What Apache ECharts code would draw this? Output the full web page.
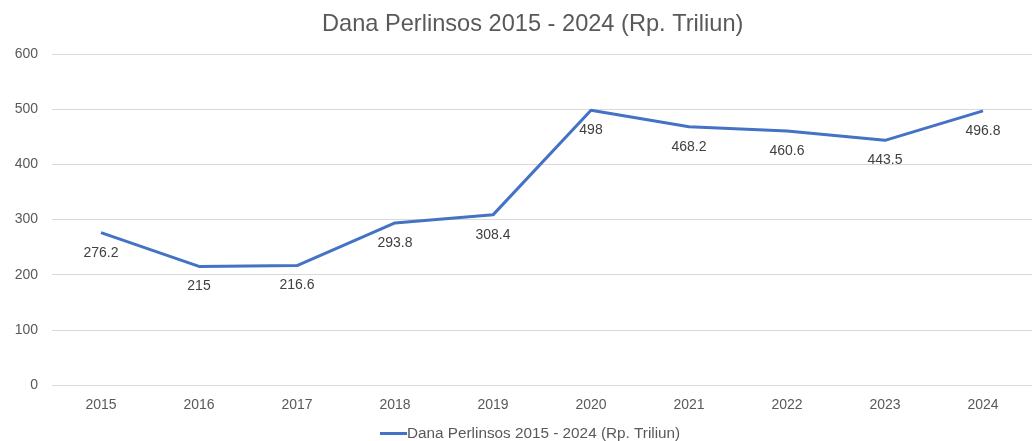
<!DOCTYPE html>
<html>
<head>
    <meta charset="utf-8">
    <title>Dana Perlinsos</title>
    <script src="https://cdn.jsdelivr.net/npm/echarts@6/dist/echarts.min.js"></script>
    <style>
        html, body { margin: 0; padding: 0; background: #fff; }
        #main { width: 1032px; height: 441px; }
    </style>
</head>
<body>
<div id="main"></div>
<script>
    // data
    var years = ['2015', '2016', '2017', '2018', '2019', '2020', '2021', '2022', '2023', '2024'];
    var dana = [276.2, 215, 216.6, 293.8, 308.4, 498, 468.2, 460.6, 443.5, 496.8];
    var seriesName = 'Dana Perlinsos 2015 - 2024 (Rp. Triliun)';

    var myChart = echarts.init(document.getElementById('main'));
    var option = {
        animation: false,
        textStyle: { fontFamily: 'Liberation Sans, Arial, sans-serif' },
        title: {
            text: seriesName,
            left: 317,
            top: 7,
            textStyle: { fontSize: 23.6, fontWeight: 'normal', color: '#595959' }
        },
        legend: {
            bottom: -5,
            left: 375,
            itemWidth: 27,
            itemHeight: 3,
            itemGap: 10,
            textStyle: { fontSize: 15.3, color: '#595959', padding: [0, 0, 0, -5] },
            data: [{ name: seriesName, icon: 'rect' }]
        },
        grid: { left: 52, right: -5, top: 54, bottom: 56 },
        xAxis: {
            type: 'category',
            data: years,
            boundaryGap: true,
            axisLine: { show: false },
            axisTick: { show: false },
            axisLabel: { color: '#595959', fontSize: 14, margin: 13 }
        },
        yAxis: {
            type: 'value',
            min: 0,
            max: 600,
            interval: 100,
            axisLabel: { color: '#595959', fontSize: 14, margin: 14 },
            splitLine: { lineStyle: { color: '#d9d9d9', width: 1 } }
        },
        series: [{
            name: seriesName,
            type: 'line',
            data: dana,
            symbol: 'circle',
            symbolSize: 0.1,
            color: '#4472c4',
            lineStyle: { width: 3, color: '#4472c4' },
            label: {
                show: true,
                position: 'bottom',
                distance: 13,
                color: '#404040',
                fontSize: 14
            }
        }]
    };
    myChart.setOption(option);
</script>
</body>
</html>
